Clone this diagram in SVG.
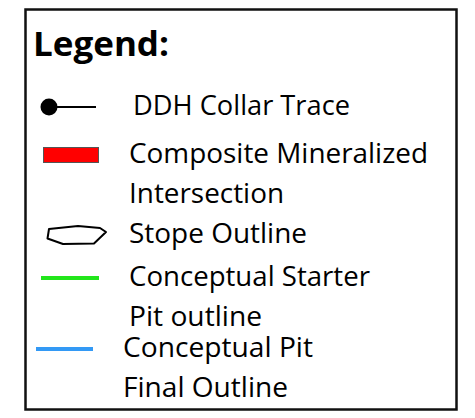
<svg xmlns="http://www.w3.org/2000/svg" width="475" height="418" viewBox="0 0 475 418">
<style>
  .t { font-family: "Open Sans", "Liberation Sans", sans-serif; font-size: 27px; fill: #000; }
  .h { font-family: "Open Sans", "Liberation Sans", sans-serif; font-size: 34px; font-weight: bold; fill: #000; }
</style>
<rect width="475" height="418" fill="#fff"/>
<g id="frame">
  <rect x="25.5" y="9.5" width="431" height="400" fill="#fff" stroke="#111" stroke-width="2.5"/>
</g>
<g id="title">
  <text class="h" x="33" y="56" textLength="136" lengthAdjust="spacingAndGlyphs">Legend:</text>
</g>
<g id="ddh">
  <line x1="49" y1="107" x2="96" y2="107" stroke="#000" stroke-width="2"/>
  <circle cx="49" cy="107" r="8.5" fill="#000"/>
  <text class="t" x="133" y="115" textLength="217" lengthAdjust="spacingAndGlyphs">DDH Collar Trace</text>
</g>
<g id="composite">
  <rect x="43.5" y="147.5" width="55" height="15" fill="#ff0000" stroke="#555" stroke-width="1"/>
  <text class="t" x="129" y="163" textLength="299" lengthAdjust="spacingAndGlyphs">Composite Mineralized</text>
  <text class="t" x="129" y="203" textLength="155" lengthAdjust="spacingAndGlyphs">Intersection</text>
</g>
<g id="stope">
  <polygon points="49,229 78,226 100,228 106,232 94,243.5 63,244 47.5,238.5" fill="none" stroke="#000" stroke-width="2" stroke-linejoin="round"/>
  <text class="t" x="129" y="243" textLength="178" lengthAdjust="spacingAndGlyphs">Stope Outline</text>
</g>
<g id="starter">
  <line x1="41" y1="278" x2="99" y2="278" stroke="#22e61b" stroke-width="4"/>
  <text class="t" x="129" y="286" textLength="241" lengthAdjust="spacingAndGlyphs">Conceptual Starter</text>
  <text class="t" x="129" y="326" textLength="133" lengthAdjust="spacingAndGlyphs">Pit outline</text>
</g>
<g id="final">
  <line x1="36" y1="349" x2="93" y2="349" stroke="#3399f5" stroke-width="4"/>
  <text class="t" x="123" y="357" textLength="190" lengthAdjust="spacingAndGlyphs">Conceptual Pit</text>
  <text class="t" x="123" y="397" textLength="165" lengthAdjust="spacingAndGlyphs">Final Outline</text>
</g>
</svg>
